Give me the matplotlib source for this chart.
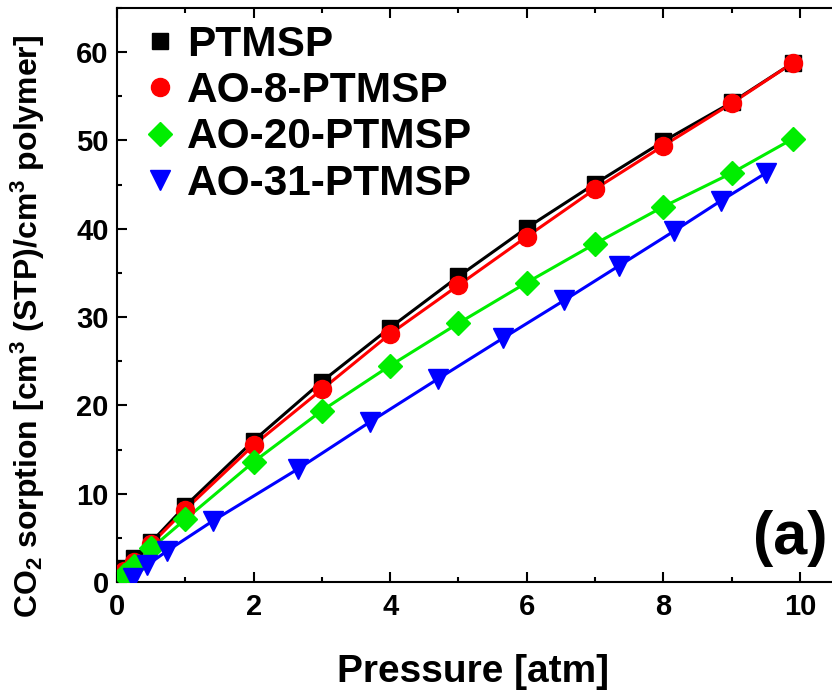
import matplotlib
matplotlib.use("Agg")
import matplotlib.pyplot as plt
from matplotlib.ticker import MultipleLocator

plt.rcParams['font.family'] = ['Liberation Sans', 'DejaVu Sans']
plt.rcParams['font.weight'] = 'bold'
plt.rcParams['mathtext.fontset'] = 'custom'
plt.rcParams['mathtext.rm'] = 'Liberation Sans:bold'
plt.rcParams['mathtext.it'] = 'Liberation Sans:bold'
plt.rcParams['mathtext.bf'] = 'Liberation Sans:bold'
plt.rcParams['mathtext.default'] = 'rm'

# CO2 sorption isotherms (pressure in atm, uptake in cm3(STP)/cm3 polymer)
p_ptmsp = [0.1, 0.25, 0.5, 1, 2, 3, 4, 5, 6, 7, 8, 9, 9.9]
c_ptmsp = [1.6, 2.7, 4.5, 8.6, 16.0, 22.7, 28.8, 34.6, 40.1, 45.1, 49.9, 54.3, 58.8]

p_ao8 = [0.1, 0.25, 0.5, 1, 2, 3, 4, 5, 6, 7, 8, 9, 9.9]
c_ao8 = [1.2, 2.3, 4.3, 8.2, 15.5, 21.8, 28.1, 33.6, 39.1, 44.5, 49.4, 54.2, 58.8]

p_ao20 = [0.1, 0.25, 0.5, 1, 2, 3, 4, 5, 6, 7, 8, 9, 9.9]
c_ao20 = [0.8, 1.8, 3.8, 7.1, 13.6, 19.4, 24.5, 29.3, 33.9, 38.3, 42.5, 46.3, 50.2]

p_ao31 = [0.23, 0.44, 0.73, 1.4, 2.65, 3.7, 4.7, 5.65, 6.55, 7.35, 8.15, 8.85, 9.5]
c_ao31 = [0.5, 1.9, 3.5, 6.9, 12.8, 18.1, 23.0, 27.6, 31.9, 35.8, 39.7, 43.2, 46.3]

series = [
    ("PTMSP", p_ptmsp, c_ptmsp, "#000000", "s", 12),
    ("AO-8-PTMSP", p_ao8, c_ao8, "#ff0000", "o", 13),
    ("AO-20-PTMSP", p_ao20, c_ao20, "#00ee00", "D", 12),
    ("AO-31-PTMSP", p_ao31, c_ao31, "#0000ff", "v", 15),
]

fig = plt.figure(figsize=(8.32, 6.98), dpi=100)
ax = fig.add_axes([117 / 832, 1 - 582 / 698, (834 - 117) / 832, (582 - 8) / 698])

for label, p, c, color, marker, ms in series:
    ax.plot([0] + p, [0] + c, color=color, lw=2.2, zorder=2)
    ax.plot(p, c, linestyle='none', marker=marker, color=color, ms=ms,
            mec=color, label=label, zorder=3)

ax.set_xlim(0, 10.5)
ax.set_ylim(0, 65)
ax.xaxis.set_major_locator(MultipleLocator(2))
ax.xaxis.set_minor_locator(MultipleLocator(1))
ax.yaxis.set_major_locator(MultipleLocator(10))
ax.yaxis.set_minor_locator(MultipleLocator(5))

for s in ax.spines.values():
    s.set_linewidth(1.5)

ax.tick_params(axis='both', which='major', direction='out', length=7.2, width=1.5,
               labelsize=21)
ax.tick_params(axis='both', which='minor', direction='out', length=3.6, width=1.5)
ax.tick_params(axis='x', which='major', pad=8)
ax.tick_params(axis='y', which='major', pad=6)
ax.tick_params(top=True, which='both', direction='in')
for lab in ax.get_xticklabels() + ax.get_yticklabels():
    lab.set_fontweight('bold')

ax.set_xlabel("Pressure [atm]", fontsize=28, fontweight='bold')
ax.xaxis.set_label_coords(0.497, -0.125)
ax.set_ylabel("CO$_2$ sorption [cm$^3$ (STP)/cm$^3$ polymer]", fontsize=23,
              fontweight='bold')
ax.yaxis.set_label_coords(-0.0976, 0.445)

leg = ax.legend(loc='upper left', bbox_to_anchor=(0.018, 0.993), frameon=False,
                prop={'size': 30.5, 'weight': 'bold'}, handlelength=0.8,
                handletextpad=0.25, labelspacing=0.15, borderaxespad=0.2,
                borderpad=0.1)

ax.text(1.0 - 7 / 717, 28 / 574, "(a)", transform=ax.transAxes, fontsize=44,
        fontweight='bold', ha='right', va='baseline')

fig.savefig("out.png", dpi=100)
